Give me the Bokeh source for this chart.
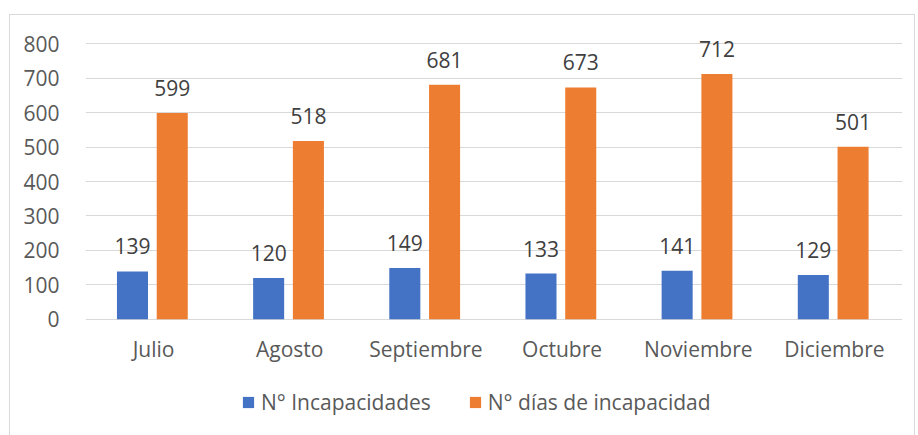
from bokeh.plotting import figure
from bokeh.models import ColumnDataSource, Range1d, Legend, LegendItem, FixedTicker, LabelSet
from bokeh.transform import dodge
from bokeh.core.properties import value
from bokeh.embed import file_html
from bokeh.resources import INLINE

months = ["Julio", "Agosto", "Septiembre", "Octubre", "Noviembre", "Diciembre"]
incapacidades = [139, 120, 149, 133, 141, 129]
dias = [599, 518, 681, 673, 712, 501]
y_ticks = [0, 100, 200, 300, 400, 500, 600, 700, 800]
series_names = ["N° Incapacidades", "N° días de incapacidad"]

FONT = "Open Sans"
FS = "21px"
BLUE = "#4472C4"
ORANGE = "#ED7D31"
OFF_A, OFF_B = -0.155, 0.137

src = ColumnDataSource(dict(
    m=months, a=incapacidades, b=dias, zero=[0] * len(months),
    at=[str(v) for v in incapacidades], bt=[str(v) for v in dias],
))

p = figure(x_range=months, y_range=Range1d(-340, 850), width=906, height=422,
           output_backend="svg", toolbar_location=None,
           min_border_left=75, min_border_right=14, min_border_top=11, min_border_bottom=1)
p.outline_line_color = None
p.background_fill_color = "white"
p.border_fill_color = "white"
p.styles = {"border": "1px solid #d9d9d9", "margin-left": "9px", "margin-top": "14px"}

r1 = p.vbar(x=dodge("m", OFF_A, range=p.x_range), top="a", width=0.228, source=src,
            fill_color=BLUE, line_color=None)
r2 = p.vbar(x=dodge("m", OFF_B, range=p.x_range), top="b", width=0.228, source=src,
            fill_color=ORANGE, line_color=None)

for col, txt, off in (("a", "at", OFF_A), ("b", "bt", OFF_B)):
    ls = LabelSet(x=dodge("m", off, range=p.x_range), y=col, text=txt, source=src,
                  text_align="center", text_baseline="bottom", y_offset=17,
                  text_font=value(FONT), text_font_size=FS, text_color="#404040")
    p.add_layout(ls)

# category labels under the zero line
xl = LabelSet(x="m", y="zero", text="m", source=src, text_align="center",
              text_baseline="middle", y_offset=-30,
              text_font=value(FONT), text_font_size=FS, text_color="#595959")
p.add_layout(xl)

p.xgrid.grid_line_color = None
p.ygrid.grid_line_color = "#d9d9d9"
p.ygrid.grid_line_width = 1
p.yaxis.ticker = FixedTicker(ticks=y_ticks)
p.yaxis.axis_line_color = None
p.yaxis.major_tick_line_color = None
p.yaxis.minor_tick_line_color = None
p.yaxis.major_label_standoff = 20
p.yaxis.major_label_text_font = FONT
p.yaxis.major_label_text_font_size = FS
p.yaxis.major_label_text_color = "#595959"
p.xaxis.visible = False
p.x_range.range_padding = 0

legend = Legend(items=[LegendItem(label=series_names[0], renderers=[r1]),
                       LegendItem(label=series_names[1], renderers=[r2])],
                orientation="horizontal", location=(156, 20),
                glyph_width=14, glyph_height=14, label_standoff=6, spacing=37,
                padding=0, margin=0, border_line_color=None, background_fill_alpha=0,
                label_text_font=FONT, label_text_font_size=FS, label_text_color="#595959")
p.add_layout(legend, "center")

open("out.html", "w").write(file_html(p, INLINE))
